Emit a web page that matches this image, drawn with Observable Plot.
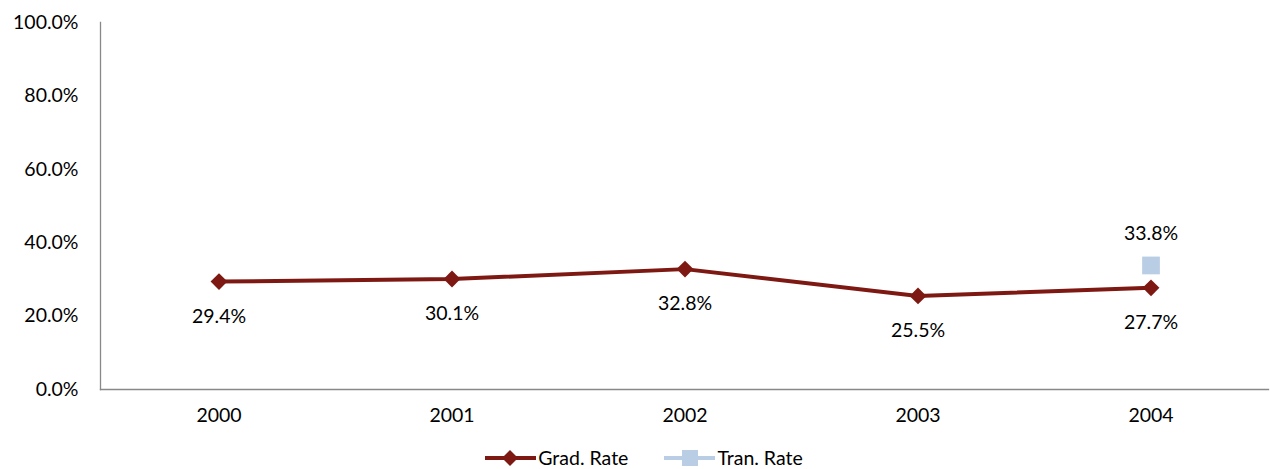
<!DOCTYPE html>
<html><head><meta charset="utf-8">
<script src="https://cdn.jsdelivr.net/npm/d3@7"></script>
<script src="https://cdn.jsdelivr.net/npm/@observablehq/plot@0.6"></script>
<style>
body{margin:0;background:#fff;font-family:Lato,"Open Sans",sans-serif;overflow:hidden}
#legend{position:absolute;top:448px;left:0;width:1270px;display:flex;justify-content:center;gap:36px;font-size:19.5px;line-height:20px;color:#000;height:20px;align-items:center;padding-left:18px;box-sizing:border-box}
.item{display:flex;align-items:center;gap:2px;height:20px}
.item span{line-height:20px}
</style></head><body>
<div id="chart"></div>
<div id="legend"></div>
<script>
const years = ["2000","2001","2002","2003","2004"];
const gradRate = [29.4,30.1,32.8,25.5,27.7];
const tranYears = ["2004"];
const tranRate = [33.8];
const yTicks = [0,20,40,60,80,100];
const gradColor = "#7D1912", tranColor = "#B9CDE5";

const grad = years.map((y,i)=>({year:y,v:gradRate[i]}));
const tran = tranYears.map((y,i)=>({year:y,v:tranRate[i]}));
const fmt = d=>d.toFixed(1)+"%";

const chart = Plot.plot({
  width:1270, height:440,
  marginLeft:100, marginRight:2, marginTop:22, marginBottom:51,
  style:{fontFamily:"Lato, 'Open Sans', sans-serif", fontSize:"19.5px", color:"#000", background:"#fff"},
  x:{type:"band", domain:years, label:null, padding:0},
  y:{domain:[0,100], label:null},
  marks:[
    Plot.axisY({ticks:yTicks, tickSize:0, tickPadding:22, tickFormat:fmt, fontSize:19.5}),
    Plot.axisX({tickSize:0, tickPadding:19, fontSize:19.5}),
    Plot.frame({anchor:"left", stroke:"#888", strokeWidth:1.3}),
    Plot.frame({anchor:"bottom", stroke:"#888", strokeWidth:1.3}),
    Plot.line(grad,{x:"year", y:"v", stroke:gradColor, strokeWidth:4}),
    Plot.dot(grad,{x:"year", y:"v", symbol:"diamond2", r:7.6, fill:gradColor, stroke:null}),
    Plot.dot(tran,{x:"year", y:"v", symbol:"square", r:10, fill:tranColor, stroke:null}),
    Plot.text(grad,{x:"year", y:"v", text:d=>fmt(d.v), dy:35, fontSize:19.5, fill:"#000"}),
    Plot.text(tran,{x:"year", y:"v", text:d=>fmt(d.v), dy:-32, fontSize:19.5, fill:"#000"})
  ]
});
document.getElementById("chart").appendChild(chart);

const legend = document.getElementById("legend");
function item(color, shape, label){
  const sym = shape==="diamond"
    ? `<path d="M25,-8 L33,0 L25,8 L17,0Z" fill="${color}"/>`
    : `<rect x="18" y="-8" width="16" height="16" fill="${color}"/>`;
  return `<div class="item"><svg width="51" height="20" viewBox="0 -10 51 20"><line x1="0" x2="51" y1="0" y2="0" stroke="${color}" stroke-width="4"/>${sym}</svg><span>${label}</span></div>`;
}
legend.innerHTML = item(gradColor,"diamond","Grad. Rate") + item(tranColor,"square","Tran. Rate");
</script>
</body></html>
